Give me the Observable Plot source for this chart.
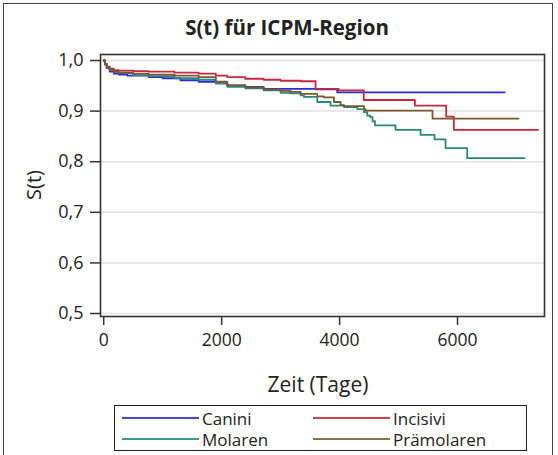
<!DOCTYPE html>
<html>
<head>
<meta charset="utf-8">
<script src="https://cdn.jsdelivr.net/npm/d3@7"></script>
<script src="https://cdn.jsdelivr.net/npm/@observablehq/plot@0.6"></script>
<style>
  html, body { margin: 0; padding: 0; background: #fff; }
  #wrap { position: relative; width: 558px; height: 455px; overflow: hidden; font-family: "Open Sans", sans-serif; color: #222; }
  #outer { position: absolute; left: 3px; top: 3px; width: 548px; height: 470px; border: 1px solid #444; }
  #title { position: absolute; left: 0; width: 574px; top: 13px; text-align: center; font-weight: bold; font-size: 20.5px; }
  #xlab { position: absolute; left: 218px; width: 200px; top: 370px; text-align: center; font-size: 21px; }
  #ylab { position: absolute; left: 33px; top: 185px; font-size: 20px; transform: translate(-50%, -50%) rotate(-90deg); white-space: nowrap; }
  #legend { position: absolute; left: 114px; top: 405px; width: 411px; height: 44px; border: 1.5px solid #222; font-size: 17px; }
  .item { position: absolute; height: 20px; display: flex; align-items: center; }
  .sw { display: inline-block; width: 77px; height: 2px; margin-right: 3px; }
  svg { position: absolute; left: 0; top: 0; }
</style>
</head>
<body>
<div id="wrap">
  <div id="outer"></div>
  <div id="title">S(t) für ICPM-Region</div>
  <div id="chart"></div>
  <div id="xlab">Zeit (Tage)</div>
  <div id="ylab">S(t)</div>
  <div id="legend"></div>
</div>
<script>
// ---- data (Kaplan-Meier step curves) ----
const groups = ["Canini", "Incisivi", "Molaren", "Prämolaren"];
const colors = ["#2b2bdc", "#c8283e", "#2a8a7a", "#7a5a2c"];
const legendColors = ["#4848d8", "#d04452", "#3c9a8c", "#8c7250"];

const daysCanini = [0, 20, 50, 100, 170, 254, 400, 763, 1000, 1300, 1610, 1900, 2096, 2400, 2712, 3600, 3960, 6800];
const survCanini = [1.0, 0.992, 0.985, 0.978, 0.974, 0.972, 0.970, 0.967, 0.965, 0.961, 0.958, 0.955, 0.951, 0.948, 0.944, 0.943, 0.937, 0.937];

const daysIncisivi = [0, 20, 50, 100, 170, 254, 500, 763, 1200, 1610, 1900, 2096, 2400, 2712, 3000, 3339, 3593, 3985, 4410, 5277, 5808, 5938, 7367];
const survIncisivi = [1.0, 0.994, 0.988, 0.984, 0.981, 0.980, 0.979, 0.978, 0.976, 0.974, 0.970, 0.967, 0.964, 0.962, 0.960, 0.959, 0.944, 0.941, 0.922, 0.911, 0.889, 0.863, 0.863];

const daysMolaren = [0, 20, 50, 100, 170, 254, 500, 763, 1200, 1610, 1900, 2096, 2400, 2712, 3000, 3169, 3339, 3395, 3621, 3847, 4074, 4300, 4413, 4469, 4520, 4560, 4600, 4949, 5373, 5610, 5797, 6164, 7136];
const survMolaren = [1.0, 0.993, 0.986, 0.981, 0.977, 0.975, 0.971, 0.969, 0.965, 0.962, 0.955, 0.948, 0.945, 0.941, 0.936, 0.935, 0.931, 0.928, 0.918, 0.911, 0.908, 0.904, 0.898, 0.891, 0.888, 0.880, 0.872, 0.863, 0.853, 0.844, 0.827, 0.807, 0.807];

const daysPraemolaren = [0, 20, 50, 100, 170, 254, 500, 763, 1200, 1610, 1900, 2096, 2400, 2712, 3000, 3169, 3339, 3621, 3734, 3904, 4017, 4074, 4413, 4440, 5576, 7034];
const survPraemolaren = [1.0, 0.993, 0.987, 0.982, 0.978, 0.976, 0.974, 0.972, 0.970, 0.967, 0.958, 0.951, 0.947, 0.943, 0.940, 0.938, 0.934, 0.929, 0.927, 0.918, 0.912, 0.910, 0.904, 0.901, 0.885, 0.885];

const xTicks = [0, 2000, 4000, 6000];
const yTicks = [0.5, 0.6, 0.7, 0.8, 0.9, 1.0];

// ---- build table ----
const series = [
  [daysCanini, survCanini],
  [daysIncisivi, survIncisivi],
  [daysMolaren, survMolaren],
  [daysPraemolaren, survPraemolaren]
];
const data = [];
series.forEach(([d, s], i) => d.forEach((day, j) => data.push({group: groups[i], day, s: s[j]})));

const fmt = d => d.toFixed(1).replace(".", ",");

const chart = Plot.plot({
  width: 558,
  height: 455,
  marginLeft: 100,
  marginRight: 14,
  marginTop: 54,
  marginBottom: 139,
  style: {fontFamily: "'Open Sans', sans-serif", fontSize: "18px", color: "#222", background: "transparent"},
  x: {domain: [-55, 7475]},
  y: {domain: [0.4941, 1.0119]},
  color: {domain: groups, range: colors},
  marks: [
    Plot.ruleY(yTicks, {stroke: "#e2e2e2", strokeWidth: 1.5}),
    Plot.line(data, {x: "day", y: "s", z: "group", stroke: "group", curve: "step-after", strokeWidth: 1.8}),
    Plot.frame({stroke: "#333", strokeWidth: 1.6}),
    Plot.axisY({ticks: yTicks, tickSize: 10, tickPadding: 7, tickFormat: fmt, label: null, stroke: "#333", strokeWidth: 1.5, fontSize: 18}),
    Plot.axisX({ticks: xTicks, tickSize: 9, tickPadding: 8, tickFormat: d => String(d), label: null, stroke: "#333", strokeWidth: 1.5, fontSize: 17.5})
  ]
});
document.getElementById("chart").appendChild(chart);

// ---- legend ----
const legend = document.getElementById("legend");
const pos = [[7, 2], [198, 2], [7, 23], [198, 23]];
groups.forEach((g, i) => {
  const it = document.createElement("div");
  it.className = "item";
  it.style.left = pos[i][0] + "px";
  it.style.top = pos[i][1] + "px";
  const sw = document.createElement("span");
  sw.className = "sw";
  sw.style.background = legendColors[i];
  const t = document.createElement("span");
  t.textContent = g;
  it.appendChild(sw);
  it.appendChild(t);
  legend.appendChild(it);
});
</script>
</body>
</html>
